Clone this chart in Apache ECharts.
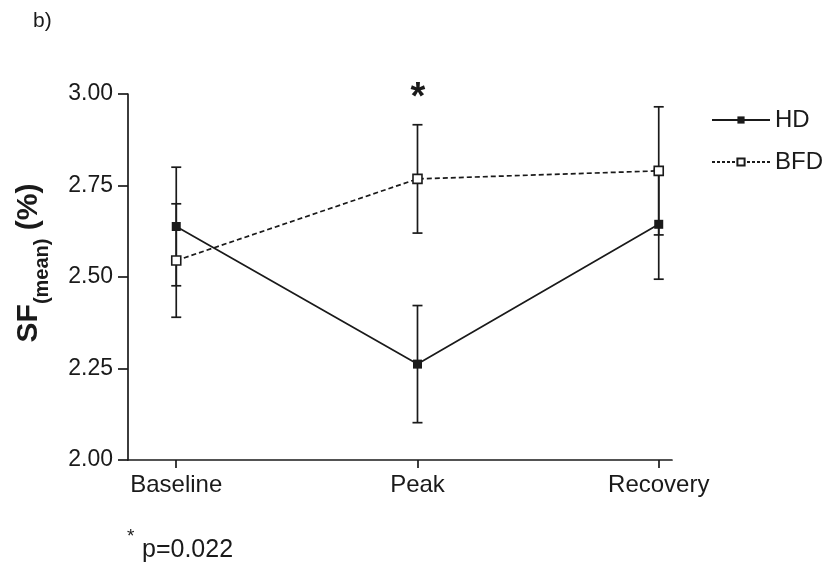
<!DOCTYPE html>
<html><head><meta charset="utf-8">
<style>html,body{margin:0;padding:0;background:#fff}#c{width:828px;height:567px}</style>
<script src="https://cdn.jsdelivr.net/npm/echarts@6/dist/echarts.min.js"></script>
</head><body><div id="c"></div>
<script>
var categories = ['Baseline', 'Peak', 'Recovery'];
var hdMean = [2.638, 2.262, 2.644];
var hdErr = [0.162, 0.160, 0.150];
var bfdMean = [2.545, 2.768, 2.790];
var bfdErr = [0.155, 0.148, 0.175];
var yTicks = ['2.00', '2.25', '2.50', '2.75', '3.00'];

var FONT = '"Liberation Sans", Arial, Helvetica, sans-serif';
function pts(m) { return m.map(function (v, i) { return [i, v]; }); }
function errData(m, e) { return m.map(function (v, i) { return [i, v - e[i], v + e[i]]; }); }
function errRender(params, api) {
  var x = api.value(0);
  var lo = api.coord([x, api.value(1)]);
  var hi = api.coord([x, api.value(2)]);
  var w = 5;
  var st = { stroke: '#1a1a1a', lineWidth: 1.7 };
  return { type: 'group', children: [
    { type: 'line', shape: { x1: lo[0], y1: lo[1], x2: hi[0], y2: hi[1] }, style: st },
    { type: 'line', shape: { x1: lo[0] - w, y1: lo[1], x2: lo[0] + w, y2: lo[1] }, style: st },
    { type: 'line', shape: { x1: hi[0] - w, y1: hi[1], x2: hi[0] + w, y2: hi[1] }, style: st }
  ]};
}

var chart = echarts.init(document.getElementById('c'), null, { renderer: 'canvas' });
chart.setOption({
  backgroundColor: '#fff',
  animation: false,
  textStyle: { fontFamily: FONT },
  grid: { left: 128, right: 156, top: 94, bottom: 107 },
  legend: {
    orient: 'vertical', left: 706, top: 103, itemGap: 18,
    itemWidth: 58, itemHeight: 9,
    textStyle: { fontSize: 24, color: '#1a1a1a', fontFamily: FONT },
    data: [
      { name: 'HD' },
      { name: 'BFD', lineStyle: { type: [3, 2] } }
    ]
  },
  xAxis: {
    type: 'value', min: -0.2, max: 2.055,
    splitLine: { show: false },
    axisLine: { onZero: false, lineStyle: { color: '#1a1a1a', width: 1.7 } },
    axisTick: { length: 8, lineStyle: { color: '#1a1a1a', width: 1.7 }, customValues: [0, 1, 2] },
    axisLabel: {
      customValues: [0, 1, 2], margin: 13, fontSize: 24, color: '#1a1a1a', fontFamily: FONT,
      formatter: function (v) { return categories[Math.round(v)]; }
    }
  },
  yAxis: {
    type: 'value', min: 2, max: 3, interval: 0.25,
    splitLine: { show: false },
    axisLine: { show: true, onZero: false, lineStyle: { color: '#1a1a1a', width: 1.7 } },
    axisTick: { show: true, length: 10, lineStyle: { color: '#1a1a1a', width: 1.7 } },
    axisLabel: {
      margin: 15, fontSize: 23, color: '#1a1a1a', fontFamily: FONT,
      formatter: function (v) { return yTicks[Math.round((v - 2) / 0.25)]; }
    },
    name: '{a|SF}{b|(mean)}{a| (%)}',
    nameLocation: 'middle', nameGap: 84, nameRotate: 90,
    nameTextStyle: {
      padding: [0, 0, 0, 28],
      rich: {
        a: { fontSize: 30, fontWeight: 'bold', color: '#1a1a1a', fontFamily: FONT, lineHeight: 34, verticalAlign: 'bottom' },
        b: { fontSize: 20, fontWeight: 'bold', color: '#1a1a1a', fontFamily: FONT, lineHeight: 34, verticalAlign: 'bottom', padding: [0, 0, -8, 0] }
      }
    }
  },
  series: [
    { name: 'HD', type: 'line', data: pts(hdMean), symbol: 'rect', symbolSize: 9,
      lineStyle: { color: '#1a1a1a', width: 1.7, type: 'solid' },
      itemStyle: { color: '#1a1a1a', borderColor: '#1a1a1a', borderWidth: 0 }, z: 3 },
    { name: 'BFD', type: 'line', data: pts(bfdMean), symbol: 'rect', symbolSize: 9,
      lineStyle: { color: '#1a1a1a', width: 1.7, type: [5, 3] },
      itemStyle: { color: '#fff', borderColor: '#1a1a1a', borderWidth: 1.6 }, z: 3 },
    { type: 'custom', renderItem: errRender, data: errData(hdMean, hdErr), z: 2, silent: true },
    { type: 'custom', renderItem: errRender, data: errData(bfdMean, bfdErr), z: 2, silent: true }
  ],
  graphic: [
    { type: 'text', x: 33, y: 11, style: { text: 'b)', fontSize: 21, fill: '#1a1a1a', fontFamily: FONT } },
    { type: 'text', x: 418, y: 80, style: { text: '*', align: 'center', fontSize: 38, fontWeight: 'bold', fill: '#1a1a1a', fontFamily: FONT } },
    { type: 'text', x: 127, y: 527, style: { text: '*', fontSize: 19, fill: '#1a1a1a', fontFamily: FONT } },
    { type: 'text', x: 142, y: 538, style: { text: 'p=0.022', fontSize: 25, fill: '#1a1a1a', fontFamily: FONT } }
  ]
});
</script></body></html>
